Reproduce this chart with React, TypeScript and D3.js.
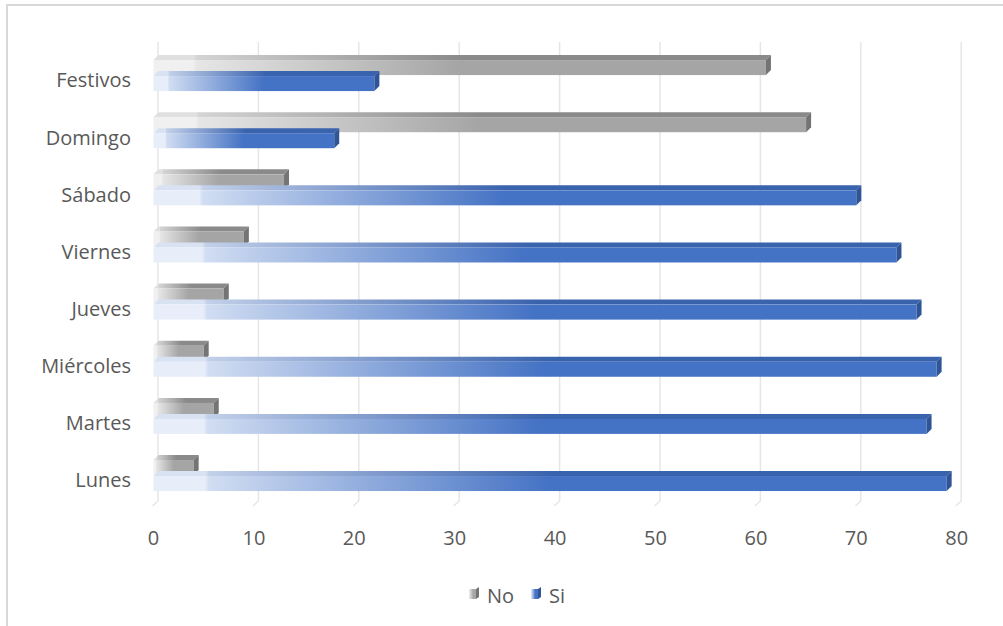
import React from "react";
import * as d3 from "d3";

const categories = ["Festivos", "Domingo", "Sábado", "Viernes", "Jueves", "Miércoles", "Martes", "Lunes"];
const seriesNames = ["No", "Si"];
const noValues = [61, 65, 13, 9, 7, 5, 6, 4];
const siValues = [22, 18, 70, 74, 76, 78, 77, 79];
const xTicks = [0, 10, 20, 30, 40, 50, 60, 70, 80];

const W = 1003;
const H = 626;
const FONT = "'Open Sans', sans-serif";
const FS = 20;
const TEXT = "#595959";
const DX = 5;
const DY = -5;

const palette: Record<string, { front: string; light: string; top: string; end: string; topLight: string }> = {
  No: { front: "#a5a5a5", light: "#f0f0f0", top: "#8a8a8a", topLight: "#e0e0e0", end: "#747474" },
  Si: { front: "#4472c4", light: "#e8eef9", top: "#3a63ad", topLight: "#d8e2f3", end: "#2f5597" },
};

export default function App() {
  const x = d3.scaleLinear().domain([0, 80]).range([153.5, 956.7]);
  const y = d3.scaleBand<string>().domain(categories).range([53.5, 510.6]).padding(0);
  const inner = d3.scaleBand<string>().domain(seriesNames).range([-22, 10]).padding(0);

  const data = categories.map((c, i) => ({ cat: c, No: noValues[i], Si: siValues[i] }));

  const gradStops = (light: string, full: string) => (
    <>
      <stop offset="0" stopColor={light} />
      <stop offset="0.065" stopColor={light} />
      <stop offset="0.07" stopColor={d3.interpolateRgb(light, full)(0.14)} />
      <stop offset="0.5" stopColor={full} />
      <stop offset="1" stopColor={full} />
    </>
  );

  return (
    <div style={{ position: "absolute", left: 0, top: 0, width: W, height: H }}>
      <svg width={W} height={H} style={{ display: "block", background: "#fff" }}>
        <defs>
          {seriesNames.map((s) => (
            <React.Fragment key={s}>
              <linearGradient id={`front-${s}`} x1="0" x2="1" y1="0" y2="0">
                {gradStops(palette[s].light, palette[s].front)}
              </linearGradient>
              <linearGradient id={`top-${s}`} x1="0" x2="1" y1="0" y2="0">
                {gradStops(palette[s].topLight, palette[s].top)}
              </linearGradient>
              <linearGradient id={`leg-${s}`} x1="0" x2="1" y1="0" y2="0">
                <stop offset="0" stopColor={palette[s].light} />
                <stop offset="0.6" stopColor={palette[s].front} />
                <stop offset="1" stopColor={palette[s].front} />
              </linearGradient>
            </React.Fragment>
          ))}
        </defs>

        {/* chart frame */}
        <rect x={6} y={4} width={W - 6} height={2} fill="#d9d9d9" />
        <rect x={6} y={4} width={2} height={H - 4} fill="#d9d9d9" />

        {/* gridlines on back wall + floor */}
        {xTicks.map((t) => (
          <path
            key={t}
            d={`M${x(t) + DX - 0.5},42 L${x(t) + DX - 0.5},501 L${x(t) - 1},506`}
            fill="none"
            stroke="#e6e6e6"
            strokeWidth={1.5}
          />
        ))}

        {/* bars */}
        {data.map((d) => {
          const c = (y(d.cat) as number) + y.bandwidth() / 2;
          return (
            <g key={d.cat}>
              {seriesNames.map((s) => {
                const v = (d as any)[s] as number;
                const y0 = c + (inner(s) as number);
                const h = inner.bandwidth() - 1;
                const x0 = x(0);
                const x1 = x(v);
                return (
                  <g key={s}>
                    <polygon
                      points={`${x0},${y0} ${x0 + DX},${y0 + DY} ${x1 + DX},${y0 + DY} ${x1},${y0}`}
                      fill={`url(#top-${s})`}
                    />
                    <rect x={x0} y={y0} width={x1 - x0} height={h} fill={`url(#front-${s})`} />
                    <polygon
                      points={`${x1},${y0} ${x1 + DX},${y0 + DY} ${x1 + DX},${y0 + h + DY} ${x1},${y0 + h}`}
                      fill={palette[s].end}
                    />
                  </g>
                );
              })}
              <text
                x={131}
                y={c}
                textAnchor="end"
                dominantBaseline="middle"
                fontFamily={FONT}
                fontSize={FS}
                fill={TEXT}
              >
                {d.cat}
              </text>
            </g>
          );
        })}

        {/* x tick labels */}
        {xTicks.map((t) => (
          <text
            key={t}
            x={x(t)}
            y={540}
            textAnchor="middle"
            dominantBaseline="middle"
            fontFamily={FONT}
            fontSize={FS}
            fill={TEXT}
          >
            {t}
          </text>
        ))}

        {/* legend */}
        {seriesNames.map((s, i) => {
          const lx = i === 0 ? 469 : 531;
          return (
            <g key={s}>
              <rect x={lx} y={589} width={7} height={10} fill={`url(#leg-${s})`} />
              <polygon points={`${lx + 7},589 ${lx + 10},587 ${lx + 10},597 ${lx + 7},599`} fill={palette[s].end} />
              <text
                x={lx + 18}
                y={598}
                dominantBaseline="middle"
                fontFamily={FONT}
                fontSize={FS}
                fill={TEXT}
              >
                {s}
              </text>
            </g>
          );
        })}
      </svg>
    </div>
  );
}
